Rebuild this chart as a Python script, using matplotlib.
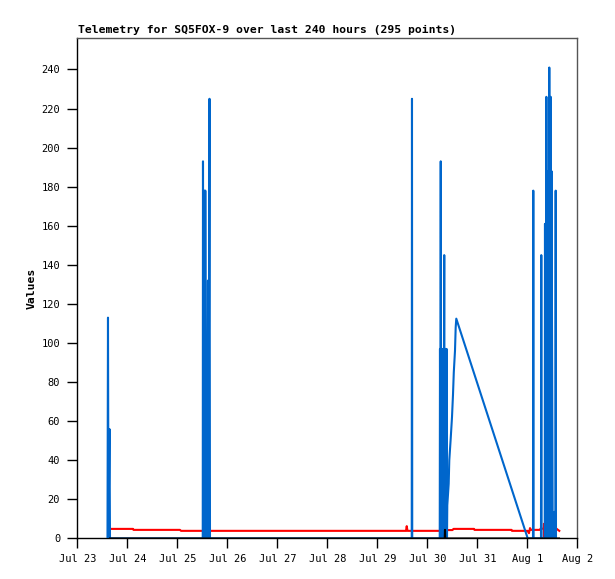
import matplotlib
matplotlib.use("Agg")
import matplotlib.pyplot as plt
import matplotlib.dates as mdates
from matplotlib.ticker import FuncFormatter
import pandas as pd

# ---- data (time offsets in days from Jul 23 00:00) ----
base = pd.Timestamp("2019-07-23 00:00")

blue_days = [0.600, 0.610, 0.620, 0.640, 0.650,
             2.505, 2.510, 2.520, 2.540, 2.548, 2.556, 2.570, 2.585, 2.595, 2.610, 2.620, 2.640, 2.650,
             6.685, 6.690, 6.695,
             7.245, 7.250, 7.258, 7.265, 7.272, 7.280, 7.288, 7.296, 7.304, 7.312, 7.320,
             7.335, 7.342, 7.350, 7.358, 7.366, 7.374, 7.382, 7.390,
             7.396, 7.424, 7.436, 7.464, 7.490, 7.510, 7.526, 7.550, 7.564, 7.576,
             9.005, 9.110, 9.116, 9.122, 9.270, 9.276, 9.282, 9.345, 9.350, 9.358,
             9.370, 9.378, 9.386, 9.394, 9.402, 9.412, 9.420, 9.430, 9.436, 9.444,
             9.452, 9.458, 9.464, 9.472, 9.480, 9.505, 9.516, 9.522, 9.536, 9.548,
             9.558, 9.564, 9.570]
blue_vals = [0, 113, 0, 56, 0,
             0, 193, 0, 178, 0, 178, 0, 85, 0, 132, 0, 225, 0,
             0, 225, 0,
             0, 97, 0, 193, 0, 97, 0, 97, 0, 97, 0,
             145, 0, 97, 0, 97, 0, 97, 0,
             17, 28, 40, 51, 62, 73.5, 85, 96, 108, 112.5,
             0, 0, 178, 0, 0, 145, 0, 0, 161, 0,
             0, 226, 0, 188, 0, 112, 0, 0, 241, 0,
             188, 0, 226, 0, 188, 0, 8.5, 3, 13.6, 0,
             0, 178, 0]

red_days = [0.67, 1.11, 1.12, 2.05, 2.07, 6.57, 6.585, 6.60, 7.39, 7.40, 7.50, 7.52,
            7.93, 7.94, 8.68, 8.69, 9.00, 9.03, 9.05, 9.07, 9.25, 9.26, 9.325, 9.33,
            9.335, 9.345, 9.40, 9.42, 9.44, 9.50, 9.58, 9.60, 9.636]
red_vals = [4.9, 4.9, 4.4, 4.4, 3.9, 3.9, 6.3, 3.9, 3.9, 4.3, 4.3, 4.9,
            4.9, 4.4, 4.4, 3.9, 3.9, 2.7, 5.3, 4.4, 4.4, 5.0, 5.0, 7.5,
            0.8, 5.0, 5.0, 5.5, 4.8, 5.2, 5.0, 4.6, 3.9]

black_days = [0.65, 7.345, 7.350, 7.355, 9.63]
black_vals = [0, 0, 4.4, 0, 0]

title = "Telemetry for SQ5FOX-9 over last 240 hours (295 points)"
ylabel = "Values"
yticks = list(range(0, 241, 20))

def to_time(days):
    return [base + pd.Timedelta(days=d) for d in days]

fig = plt.figure(figsize=(6.15, 5.79), dpi=100)
ax = fig.add_axes([0.126, 0.070, 0.813, 0.864])

lw = 1.5
ax.plot(to_time(red_days), red_vals, color="#ff0000", lw=lw, zorder=2)
ax.plot(to_time(blue_days), blue_vals, color="#0066cc", lw=lw, zorder=3)
ax.plot(to_time(black_days), black_vals, color="#000000", lw=lw, zorder=4)

ax.set_xlim(base, base + pd.Timedelta(days=10))
ax.set_ylim(0, 256)
ax.set_yticks(yticks)

ax.xaxis.set_major_locator(mdates.DayLocator())
ax.xaxis.set_major_formatter(FuncFormatter(
    lambda x, pos: (lambda d: f"{d:%b} {d.day}")(mdates.num2date(x))))

mono = "DejaVu Sans Mono"
for lab in ax.get_xticklabels() + ax.get_yticklabels():
    lab.set_family(mono)
    lab.set_fontsize(7.5)
ax.tick_params(axis="both", direction="out", length=7.5, width=1, colors="black",
               labelsize=7.5)
ax.tick_params(axis="y", pad=5)
ax.tick_params(axis="x", pad=4)

ax.spines["left"].set_color("black")
ax.spines["bottom"].set_color("black")
ax.spines["top"].set_color("#555555")
ax.spines["right"].set_color("#555555")
for s in ax.spines.values():
    s.set_linewidth(1)

fig.text(77.5 / 615, 1 - 33 / 579, title, family=mono, weight="bold",
         fontsize=8.2, ha="left", va="baseline")
fig.text(32 / 615, 1 - 288 / 579, ylabel, family=mono, weight="bold",
         fontsize=8.2, rotation=90, ha="center", va="center")

fig.savefig("out.png", dpi=100)
